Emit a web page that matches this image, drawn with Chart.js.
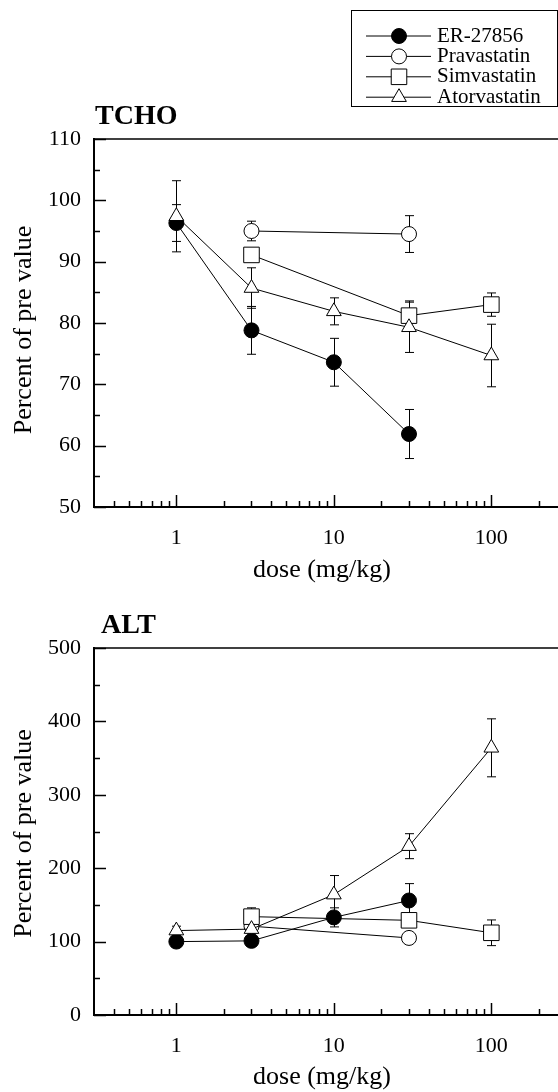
<!DOCTYPE html>
<html>
<head>
<meta charset="utf-8">
<script src="https://cdn.jsdelivr.net/npm/chart.js@4.4.1/dist/chart.umd.min.js"></script>
<style>
  html, body { margin: 0; padding: 0; background: #fff; }
  #page { position: relative; width: 558px; height: 1092px; overflow: hidden; background: #fff; }
  #page canvas { position: absolute; left: 0; }
</style>
</head>
<body>
<div id="page">
  <canvas id="tcho-chart" width="558" height="600" style="top:0"></canvas>
  <canvas id="alt-chart" width="558" height="492" style="top:600px"></canvas>
</div>
<script>
// doses (mg/kg) and series names
const doses = [1, 3, 10, 30, 100];
const seriesNames = ['ER-27856', 'Pravastatin', 'Simvastatin', 'Atorvastatin'];

// TCHO, percent of pre value (null = dose not tested)
const erTcho = [96.3, 78.8, 73.6, 61.9, null];
const erTchoSem = [3.0, 3.9, 3.9, 4.0, null];
const pravaTcho = [null, 95.0, null, 94.5, null];
const pravaTchoSem = [null, 1.6, null, 3.0, null];
const simvaTcho = [null, 91.1, null, 81.2, 83.0];
const simvaTchoSem = [null, 0.8, null, 2.4, 1.9];
const atorTcho = [97.4, 85.7, 81.9, 79.3, 74.7];
const atorTchoSem = [5.8, 3.3, 2.2, 4.1, 5.1];

// ALT, percent of pre value
const erAlt = [100, 101, 133, 156, null];
const erAltSem = [4, 4, 13, 23, null];
const pravaAlt = [null, 121, null, 105, null];
const pravaAltSem = [null, 4, null, 5, null];
const simvaAlt = [null, 134, null, 129, 112];
const simvaAltSem = [null, 12, null, 7, 17.5];
const atorAlt = [115, 117, 164, 230, 364];
const atorAltSem = [6, 5, 26, 17, 39.5];

// axis ticks
const xTickLabels = [1, 10, 100];
const xTickValues = [0.4, 0.5, 0.6, 0.7, 0.8, 0.9, 1, 2, 3, 4, 5, 6, 7, 8, 9,
                     10, 20, 30, 40, 50, 60, 70, 80, 90, 100, 200];
const tchoYTicks = [50, 60, 70, 80, 90, 100, 110];
const altYTicks = [0, 100, 200, 300, 400, 500];

const FONT = "'Liberation Serif', 'Times New Roman', serif";

// marker look per series (same order as seriesNames)
const markerStyles = [
    { pointStyle: 'circle', radius: 7.5, fill: '#000' },
    { pointStyle: 'circle', radius: 7.5, fill: '#fff' },
    { pointStyle: 'rect', radius: 11, fill: '#fff' },
    { pointStyle: 'triangle', radius: 8.5, fill: '#fff' }
];
const drawOrder = [3, 2, 1, 0]; // atorvastatin drawn on top

function buildDatasets(valueLists, semLists) {
    return valueLists.map((vals, s) => ({
        label: seriesNames[s],
        data: doses.map((d, i) => vals[i] == null ? null : { x: d, y: vals[i], sem: semLists[s][i] })
                   .filter(Boolean),
        borderColor: '#000',
        borderWidth: 1,
        tension: 0,
        fill: false,
        pointStyle: markerStyles[s].pointStyle,
        pointRadius: markerStyles[s].radius,
        pointBackgroundColor: markerStyles[s].fill,
        pointBorderColor: '#000',
        pointBorderWidth: 1,
        order: drawOrder[s],
        clip: false
    }));
}

// vertical error bars with caps, drawn under the markers
const errorBars = {
    id: 'errorBars',
    beforeDatasetsDraw(chart) {
        const { ctx } = chart;
        const y = chart.scales.y;
        ctx.save();
        ctx.strokeStyle = '#000';
        ctx.lineWidth = 1;
        chart.data.datasets.forEach((ds, di) => {
            const meta = chart.getDatasetMeta(di);
            meta.data.forEach((pt, i) => {
                const raw = ds.data[i];
                if (!raw || !raw.sem) return;
                const top = y.getPixelForValue(raw.y + raw.sem);
                const bot = y.getPixelForValue(raw.y - raw.sem);
                const x = Math.round(pt.x) + 0.5;
                ctx.beginPath();
                ctx.moveTo(x, top); ctx.lineTo(x, bot);
                ctx.moveTo(x - 4.5, top); ctx.lineTo(x + 4.5, top);
                ctx.moveTo(x - 4.5, bot); ctx.lineTo(x + 4.5, bot);
                ctx.stroke();
            });
        });
        ctx.restore();
    }
};

// top border line and inward tick marks
const frame = {
    id: 'frame',
    afterDraw(chart) {
        const { ctx, chartArea: a } = chart;
        const { x, y } = chart.scales;
        ctx.save();
        ctx.strokeStyle = '#000';
        ctx.lineWidth = 1.5;
        ctx.beginPath();
        ctx.moveTo(a.left, a.top);
        ctx.lineTo(a.right, a.top);
        ctx.stroke();
        ctx.beginPath();
        x.ticks.forEach(t => {
            const px = Math.round(x.getPixelForValue(t.value)) + 0.5;
            if (px < a.left + 2 || px > a.right) return;
            const len = t.label ? 12 : 6;
            ctx.moveTo(px, a.bottom);
            ctx.lineTo(px, a.bottom - len);
        });
        y.ticks.forEach(t => {
            const py = Math.round(y.getPixelForValue(t.value)) + 0.5;
            const len = t.label ? 12 : 6;
            ctx.moveTo(a.left, py);
            ctx.lineTo(a.left + len, py);
        });
        ctx.stroke();
        ctx.restore();
    }
};

// bold panel title (TCHO / ALT) and both axis titles
const panelTitle = {
    id: 'panelTitle',
    afterDraw(chart, args, opts) {
        const { ctx, chartArea: a } = chart;
        ctx.save();
        ctx.fillStyle = '#000';
        ctx.font = 'bold 28px ' + FONT;
        ctx.textBaseline = 'alphabetic';
        ctx.textAlign = 'left';
        ctx.fillText(opts.text, opts.x, opts.y);
        ctx.font = '26px ' + FONT;
        ctx.textAlign = 'center';
        ctx.textBaseline = 'middle';
        ctx.fillText(opts.xTitle, opts.xTitleX, a.bottom + opts.xTitleDrop);
        ctx.translate(opts.yTitleX, (a.top + a.bottom) / 2 + opts.yTitleShift);
        ctx.rotate(-Math.PI / 2);
        ctx.fillText(opts.yTitle, 0, 0);
        ctx.restore();
    }
};

// boxed legend with the line running through each marker
const lineLegend = {
    id: 'lineLegend',
    afterDraw(chart, args, opts) {
        if (!opts.show) return;
        const { ctx } = chart;
        ctx.save();
        ctx.strokeStyle = '#000';
        ctx.lineWidth = 1;
        ctx.strokeRect(opts.box[0] + 0.5, opts.box[1] + 0.5, opts.box[2], opts.box[3]);
        ctx.font = '21px ' + FONT;
        ctx.textBaseline = 'middle';
        chart.data.datasets.forEach((ds, i) => {
            const yy = opts.firstRow + i * opts.rowGap;
            ctx.strokeStyle = '#000';
            ctx.lineWidth = 1;
            ctx.beginPath();
            ctx.moveTo(opts.lineFrom, yy);
            ctx.lineTo(opts.lineTo, yy);
            ctx.stroke();
            ctx.fillStyle = ds.pointBackgroundColor;
            Chart.helpers.drawPoint(ctx, {
                pointStyle: ds.pointStyle, radius: ds.pointRadius, rotation: 0, borderWidth: 1
            }, opts.markerX, yy);
            ctx.fillStyle = '#000';
            ctx.fillText(ds.label, opts.textX, yy);
        });
        ctx.restore();
    }
};

function makeOptions(cfg) {
    return {
        responsive: false,
        animation: false,
        devicePixelRatio: 1,
        layout: { autoPadding: false, padding: { top: cfg.top, left: 0, right: 0, bottom: 0 } },
        scales: {
            x: {
                type: 'logarithmic',
                min: 0.3,
                max: 265,
                bounds: 'data',
                afterBuildTicks: scale => { scale.ticks = xTickValues.map(v => ({ value: v })); },
                afterFit: scale => {
                    scale.height = cfg.axisHeight;
                    scale.paddingLeft = 0;
                    scale.paddingRight = 0;
                },
                grid: { display: false, drawTicks: false },
                border: { display: true, color: '#000', width: 2 },
                ticks: {
                    autoSkip: false,
                    maxRotation: 0,
                    padding: 18,
                    color: '#000',
                    font: { family: FONT, size: 22 },
                    callback: v => xTickLabels.includes(v) ? String(v) : ''
                },
                title: { display: false }
            },
            y: {
                min: cfg.yMin,
                max: cfg.yMax,
                afterFit: scale => {
                    scale.width = 94;
                    scale.paddingTop = 0;
                    scale.paddingBottom = 0;
                },
                grid: { display: false, drawTicks: false },
                border: { display: true, color: '#000', width: 2 },
                ticks: {
                    stepSize: cfg.yStep,
                    autoSkip: false,
                    padding: 13,
                    color: '#000',
                    font: { family: FONT, size: 22 },
                    callback: v => cfg.yLabels.includes(v) ? String(v) : ''
                },
                title: { display: false }
            }
        },
        plugins: {
            legend: { display: false },
            tooltip: { enabled: false },
            panelTitle: cfg.title,
            lineLegend: cfg.legend
        }
    };
}

new Chart(document.getElementById('tcho-chart'), {
    type: 'line',
    data: {
        datasets: buildDatasets([erTcho, pravaTcho, simvaTcho, atorTcho],
                                [erTchoSem, pravaTchoSem, simvaTchoSem, atorTchoSem])
    },
    options: makeOptions({
        top: 139, axisHeight: 93,
        yMin: 50, yMax: 110, yStep: 5, yLabels: tchoYTicks,
        title: { text: 'TCHO', x: 95, y: 124,
                 xTitle: 'dose (mg/kg)', xTitleX: 322, xTitleDrop: 63,
                 yTitle: 'Percent of pre value', yTitleX: 24, yTitleShift: 7 },
        legend: { show: true, box: [351, 10, 206, 96], firstRow: 36, rowGap: 20.4,
                  lineFrom: 366, lineTo: 431, markerX: 399, textX: 437 }
    }),
    plugins: [errorBars, frame, panelTitle, lineLegend]
});

new Chart(document.getElementById('alt-chart'), {
    type: 'line',
    data: {
        datasets: buildDatasets([erAlt, pravaAlt, simvaAlt, atorAlt],
                                [erAltSem, pravaAltSem, simvaAltSem, atorAltSem])
    },
    options: makeOptions({
        top: 48, axisHeight: 77,
        yMin: 0, yMax: 500, yStep: 50, yLabels: altYTicks,
        title: { text: 'ALT', x: 101, y: 33,
                 xTitle: 'dose (mg/kg)', xTitleX: 322, xTitleDrop: 62,
                 yTitle: 'Percent of pre value', yTitleX: 24, yTitleShift: 2 },
        legend: { show: false }
    }),
    plugins: [errorBars, frame, panelTitle, lineLegend]
});
</script>
</body>
</html>
